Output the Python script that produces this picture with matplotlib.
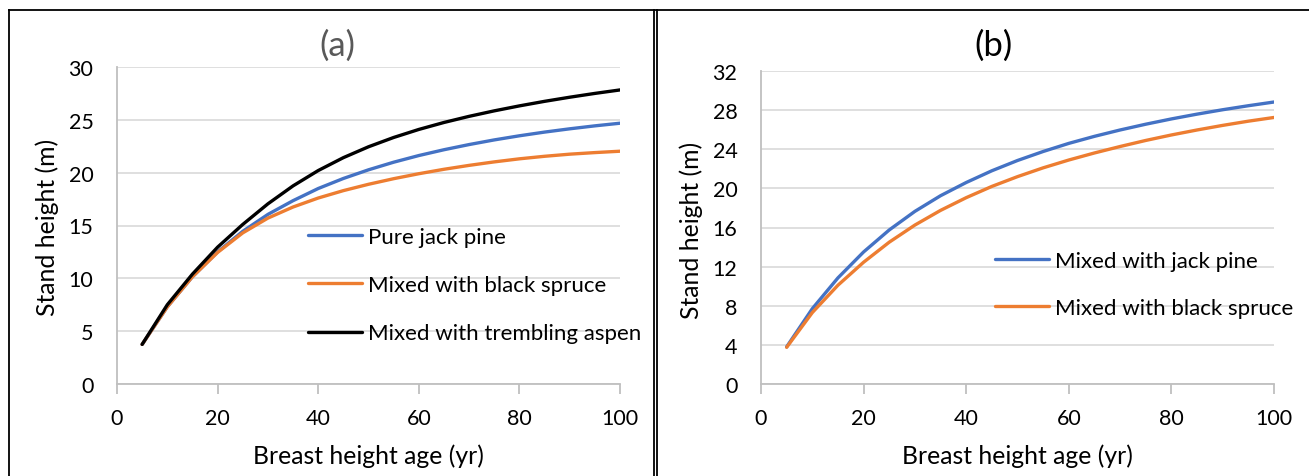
import matplotlib
matplotlib.use("Agg")
import matplotlib.pyplot as plt
from matplotlib.lines import Line2D

# ---------------- data ----------------
age = [5, 10, 15, 20, 25, 30, 35, 40, 45, 50, 55, 60, 65, 70, 75, 80, 85, 90, 95, 100]

a_pure_jp = [3.75, 7.3, 10.15, 12.5, 14.45, 16.05, 17.35, 18.5, 19.45, 20.27,
             20.99, 21.62, 22.17, 22.66, 23.1, 23.49, 23.84, 24.15, 24.43, 24.68]
a_black_spruce = [3.75, 7.3, 10.15, 12.45, 14.3, 15.7, 16.75, 17.6, 18.3, 18.9,
                  19.43, 19.9, 20.32, 20.69, 21.02, 21.31, 21.55, 21.75, 21.9, 22.03]
a_aspen = [3.75, 7.5, 10.4, 12.95, 15.1, 17.05, 18.75, 20.2, 21.42, 22.45,
           23.33, 24.09, 24.75, 25.33, 25.85, 26.32, 26.75, 27.14, 27.5, 27.83]

b_jack_pine = [3.8, 7.7, 10.85, 13.5, 15.75, 17.65, 19.25, 20.6, 21.8, 22.85,
               23.77, 24.6, 25.32, 25.97, 26.56, 27.1, 27.59, 28.04, 28.45, 28.83]
b_black_spruce = [3.75, 7.3, 10.1, 12.45, 14.5, 16.25, 17.75, 19.05, 20.2, 21.2,
                  22.1, 22.9, 23.62, 24.28, 24.9, 25.46, 25.97, 26.44, 26.87, 27.25]

labels_a = ["Pure jack pine", "Mixed with black spruce", "Mixed with trembling aspen"]
labels_b = ["Mixed with jack pine", "Mixed with black spruce"]
xticks = [0, 20, 40, 60, 80, 100]
yticks_a = [0, 5, 10, 15, 20, 25, 30]
yticks_b = [0, 4, 8, 12, 16, 20, 24, 28, 32]

BLUE = "#4472C4"
ORANGE = "#ED7D31"
BLACK = "#000000"

plt.rcParams['font.family'] = ['Lato', 'DejaVu Sans']

W, H = 1309, 477
fig = plt.figure(figsize=(W / 100, H / 100), dpi=100)

def fx(px):
    return px / W

def fy(py):
    return 1 - py / H

# frame lines
fig.add_artist(Line2D([fx(8.5), fx(8.5)], [fy(11), 0], color="black", lw=1.3, transform=fig.transFigure))
fig.add_artist(Line2D([fx(8.5), 1], [fy(11), fy(11)], color="black", lw=1.3, transform=fig.transFigure))
fig.add_artist(Line2D([fx(654.3), fx(654.3)], [fy(11), 0], color="black", lw=1.3, transform=fig.transFigure))
fig.add_artist(Line2D([fx(657.3), fx(657.3)], [fy(11), 0], color="black", lw=1.3, transform=fig.transFigure))

TICK_FS = 15.5
LAB_FS = 17.8
LEG_FS = 16

def style(ax, yticks, ylim):
    ax.set_xlim(0, 100)
    ax.set_ylim(*ylim)
    ax.set_xticks(xticks)
    ax.set_yticks(yticks)
    ax.grid(axis='y', color="#D9D9D9", lw=1.2)
    ax.set_axisbelow(True)
    for s in ["top", "right"]:
        ax.spines[s].set_visible(False)
    for s in ["left", "bottom"]:
        ax.spines[s].set_color("#BFBFBF")
        ax.spines[s].set_linewidth(1.3)
    ax.tick_params(axis='x', length=7, width=1.3, color="#BFBFBF", pad=10,
                   labelsize=TICK_FS, labelcolor="#000000", direction='out')
    ax.tick_params(axis='y', length=0, pad=17, labelsize=TICK_FS, labelcolor="#000000")

# ---------- panel (a) ----------
axa = fig.add_axes([fx(117), fy(385), fx(620) - fx(117), fy(68) - fy(385)])
la1, = axa.plot(age, a_pure_jp, color=BLUE, lw=2.4, solid_capstyle='round', solid_joinstyle='round')
la2, = axa.plot(age, a_black_spruce, color=ORANGE, lw=2.4, solid_capstyle='round', solid_joinstyle='round')
la3, = axa.plot(age, a_aspen, color=BLACK, lw=2.4, solid_capstyle='round', solid_joinstyle='round')
style(axa, yticks_a, (0, 30))
axa.legend([la1, la2, la3], labels_a, loc='upper left', frameon=False,
           bbox_to_anchor=(fx(308), fy(228)), bbox_transform=fig.transFigure,
           fontsize=LEG_FS, handlelength=2.45, handletextpad=0.27, labelspacing=1.27,
           borderpad=0, borderaxespad=0)
fig.text(fx(337), fy(46), "(a)", ha='center', va='center', fontsize=25, color="#595959")
fig.text(fx(47), fy(227), "Stand height (m)", ha='center', va='center', rotation=90, fontsize=LAB_FS)
fig.text(fx(368), fy(456), "Breast height age (yr)", ha='center', va='center', fontsize=LAB_FS)

# ---------- panel (b) ----------
axb = fig.add_axes([fx(761), fy(385), fx(1274) - fx(761), fy(72) - fy(385)])
lb1, = axb.plot(age, b_jack_pine, color=BLUE, lw=2.4, solid_capstyle='round', solid_joinstyle='round')
lb2, = axb.plot(age, b_black_spruce, color=ORANGE, lw=2.4, solid_capstyle='round', solid_joinstyle='round')
style(axb, yticks_b, (0, 32))
axb.legend([lb1, lb2], labels_b, loc='upper left', frameon=False,
           bbox_to_anchor=(fx(995), fy(252)), bbox_transform=fig.transFigure,
           fontsize=LEG_FS, handlelength=2.45, handletextpad=0.27, labelspacing=1.2,
           borderpad=0, borderaxespad=0)
fig.text(fx(993), fy(46), "(b)", ha='center', va='center', fontsize=25, color="#000000")
fig.text(fx(691), fy(230), "Stand height (m)", ha='center', va='center', rotation=90, fontsize=LAB_FS)
fig.text(fx(1017), fy(456), "Breast height age (yr)", ha='center', va='center', fontsize=LAB_FS)

fig.savefig("out.png", dpi=100)
